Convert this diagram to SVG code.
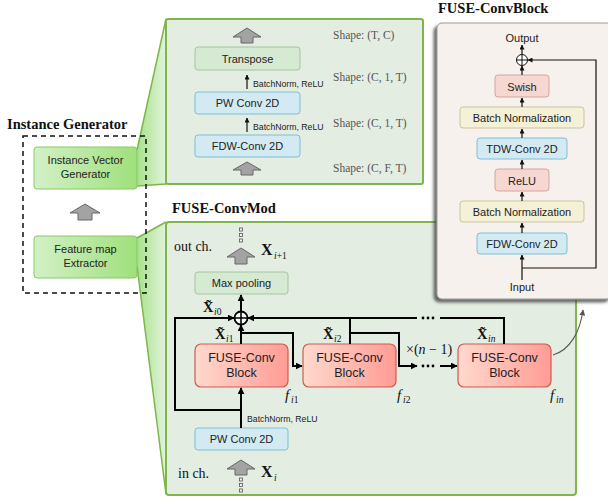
<svg xmlns="http://www.w3.org/2000/svg" width="608" height="500" viewBox="0 0 608 500">
<style>
.title{font-family:"Liberation Serif",serif;font-weight:bold;font-size:14.5px;fill:#111}
.bt{font-family:"Liberation Sans",Arial,sans-serif;font-size:11px;fill:#222;text-anchor:middle}
.bk{font-family:"Liberation Sans",Arial,sans-serif;font-size:12.5px;fill:#222;text-anchor:middle}
.sm{font-family:"Liberation Sans",Arial,sans-serif;font-size:8.7px;fill:#222}
.shp{font-family:"Liberation Serif",serif;font-size:11.5px;fill:#555}
.lbl{font-family:"Liberation Serif",serif;font-size:14px;fill:#111}
.mx{font-family:"Liberation Serif",serif;font-weight:bold;fill:#111}
.it{font-family:"Liberation Serif",serif;font-style:italic;fill:#111}
.sub{font-family:"Liberation Serif",serif;font-size:9.5px;fill:#111}
.grn{fill:url(#gIG);stroke:#86c966;stroke-width:1}
.gbox{fill:#d6e9d2;stroke:#a3c79e;stroke-width:1}
.bbox{fill:#d4eaf3;stroke:#7dbfd8;stroke-width:1}
.ybox{fill:#f4f1d6;stroke:#c9c4a0;stroke-width:1}
.pbox{fill:#f6d7d1;stroke:#d3a59c;stroke-width:1}
.fb{fill:url(#gFB);stroke:#d05a50;stroke-width:1.2}
.ga{fill:#a3a3a3;stroke:#666;stroke-width:1}
.ln{fill:none;stroke:#000;stroke-width:2}
.ln1{fill:none;stroke:#111;stroke-width:1.2}
.dq{fill:#f0f0f0;stroke:#555;stroke-width:0.8}
</style>
<defs>
<linearGradient id="gIG" x1="0" x2="1" y1="0" y2="0"><stop offset="0" stop-color="#d3f0c6"/><stop offset="1" stop-color="#9fe07c"/></linearGradient>
<linearGradient id="gFB" x1="0" x2="1" y1="0" y2="0"><stop offset="0" stop-color="#ffd9cd"/><stop offset="1" stop-color="#ff9c95"/></linearGradient>
<linearGradient id="gTr" x1="0" x2="1" y1="0" y2="0"><stop offset="0" stop-color="#a6e38a"/><stop offset="1" stop-color="#e2f2dc"/></linearGradient>
<marker id="ah" viewBox="0 0 10 10" refX="9" refY="5" markerWidth="7" markerHeight="7" markerUnits="userSpaceOnUse" orient="auto"><path d="M0,0 L10,5 L0,10 z" fill="#000"/></marker>
<marker id="as" viewBox="0 0 10 10" refX="9" refY="5" markerWidth="5" markerHeight="5" markerUnits="userSpaceOnUse" orient="auto"><path d="M0,0 L10,5 L0,10 z" fill="#111"/></marker>
<marker id="ag" viewBox="0 0 10 10" refX="9" refY="5" markerWidth="6" markerHeight="6" markerUnits="userSpaceOnUse" orient="auto"><path d="M0,0 L10,5 L0,10 z" fill="#555"/></marker>
<filter id="sh" x="-10%" y="-10%" width="120%" height="120%"><feDropShadow dx="-3" dy="3" stdDeviation="1.5" flood-color="#444" flood-opacity="0.8"/></filter>
</defs>

<!-- zoom trapezoids -->
<polygon points="137,150 166,19 166,184 137,186" fill="url(#gTr)"/>
<polyline points="137,150 166,19" fill="none" stroke="#7db64a" stroke-width="1.5"/>
<polyline points="137,186 166,184" fill="none" stroke="#7db64a" stroke-width="1.5"/>
<polygon points="137,238 166,222 166,494 137,266" fill="url(#gTr)"/>
<polyline points="137,238 166,222" fill="none" stroke="#7db64a" stroke-width="1.5"/>
<polyline points="137,266 166,494" fill="none" stroke="#7db64a" stroke-width="1.5"/>

<!-- Instance Generator -->
<g id="instance-generator">
<text class="title" x="7" y="129">Instance Generator</text>
<rect x="23" y="136" width="123" height="157" fill="none" stroke="#111" stroke-width="1.5" stroke-dasharray="5,4"/>
</g>
<g id="ivg">
<rect class="grn" x="34" y="147" width="103" height="42" rx="3"/>
<text class="bt" x="85.5" y="164">Instance Vector</text>
<text class="bt" x="85.5" y="178">Generator</text>
</g>
<g id="ig-arrow"><path class="ga" d="M85,204 L100,213 L92,213 L92,220 L78,220 L78,213 L70,213 Z"/></g>
<g id="fme">
<rect class="grn" x="34" y="236" width="103" height="42" rx="3"/>
<text class="bt" x="85.5" y="253">Feature map</text>
<text class="bt" x="85.5" y="267">Extractor</text>
</g>

<!-- Top panel -->
<g id="top-panel">
<rect x="166" y="19" width="257" height="165" rx="2" fill="#e4ede2" stroke="#7db64a" stroke-width="2"/>
<path class="ga" d="M247,28 L261,37 L253,37 L253,43 L241,43 L241,37 L233,37 Z"/>
<path class="ga" d="M247,162 L261,170 L253,170 L253,175 L241,175 L241,170 L233,170 Z"/>
<text class="shp" x="333" y="39">Shape: (T, C)</text>
<text class="shp" x="333" y="81">Shape: (C, 1, T)</text>
<text class="shp" x="333" y="127">Shape: (C, 1, T)</text>
<text class="shp" x="333" y="172">Shape: (C, F, T)</text>
</g>
<g id="transpose"><rect class="gbox" x="195" y="47" width="105" height="23" rx="3"/><text class="bt" x="247.5" y="62.5">Transpose</text></g>
<g id="pw-top"><rect class="bbox" x="195" y="92" width="105" height="22" rx="3"/><text class="bt" x="247.5" y="107">PW Conv 2D</text></g>
<g id="fdw-top"><rect class="bbox" x="195" y="135" width="105" height="22" rx="3"/><text class="bt" x="247.5" y="150">FDW-Conv 2D</text></g>
<g id="top-connectors">
<line class="ln1" x1="247" y1="89" x2="247" y2="75" stroke-width="1.5" marker-end="url(#as)"/>
<line class="ln1" x1="247" y1="132" x2="247" y2="118" stroke-width="1.5" marker-end="url(#as)"/>
<text class="sm" x="253" y="87">BatchNorm, ReLU</text>
<text class="sm" x="253" y="130">BatchNorm, ReLU</text>
</g>

<!-- Main panel -->
<g id="main-panel">
<text class="title" x="172" y="213">FUSE-ConvMod</text>
<rect x="166" y="222" width="410" height="273" rx="3" fill="#e4ede2" stroke="#7db64a" stroke-width="2"/>
<text class="lbl" x="174" y="251">out ch.</text>
<text class="lbl" x="178" y="478">in ch.</text>
<path class="ga" d="M241,248 L255,257 L247,257 L247,264 L235,264 L235,257 L227,257 Z"/>
<path class="ga" d="M241,460 L255,469 L247,469 L247,475 L235,475 L235,469 L227,469 Z"/>
<rect class="dq" x="239.5" y="228" width="3" height="3"/><rect class="dq" x="239.5" y="233.5" width="3" height="3"/><rect class="dq" x="239.5" y="239" width="3" height="3"/>
<rect class="dq" x="239.5" y="478" width="3" height="3"/><rect class="dq" x="239.5" y="483.5" width="3" height="3"/><rect class="dq" x="239.5" y="489" width="3" height="3"/>
<text class="mx" x="261" y="255" font-size="16">X</text><text class="sub" x="274" y="259" font-size="11"><tspan font-style="italic">i</tspan>+1</text>
<text class="mx" x="261" y="477" font-size="16">X</text><text class="sub" x="274" y="481" font-size="11" font-style="italic">i</text>
</g>
<g id="maxpool"><rect class="gbox" x="195" y="272" width="93" height="22" rx="3"/><text class="bt" x="241.5" y="287">Max pooling</text></g>
<g id="pw-main"><rect class="bbox" x="195" y="428" width="93" height="22" rx="3"/><text class="bt" x="241.5" y="443">PW Conv 2D</text></g>
<g id="block1"><rect class="fb" x="195" y="344" width="93" height="43" rx="6"/><text class="bk" x="241.5" y="362">FUSE-Conv</text><text class="bk" x="241.5" y="377">Block</text></g>
<g id="block2"><rect class="fb" x="303" y="344" width="93" height="43" rx="6"/><text class="bk" x="349.5" y="362">FUSE-Conv</text><text class="bk" x="349.5" y="377">Block</text></g>
<g id="blockn"><rect class="fb" x="458" y="344" width="93" height="43" rx="6"/><text class="bk" x="504.5" y="362">FUSE-Conv</text><text class="bk" x="504.5" y="377">Block</text></g>
<g id="sum-node"><circle cx="241" cy="318" r="6.5" fill="#fff" stroke="#000" stroke-width="1.8"/><path d="M234.5,318 H247.5 M241,311.5 V324.5" stroke="#000" stroke-width="1.6"/></g>

<g id="main-labels">
<text class="mx" x="203" y="312" font-size="14.5">X̃</text><text class="sub" x="214" y="315" font-size="9.5"><tspan font-style="italic">i</tspan>0</text>
<text class="mx" x="215" y="339" font-size="14.5">X̃</text><text class="sub" x="226" y="342" font-size="9.5"><tspan font-style="italic">i</tspan>1</text>
<text class="mx" x="323" y="339" font-size="14.5">X̃</text><text class="sub" x="334" y="342" font-size="9.5"><tspan font-style="italic">i</tspan>2</text>
<text class="mx" x="477" y="339" font-size="14.5">X̃</text><text class="sub" x="488" y="342" font-size="9.5" font-style="italic">in</text>
<text class="it" x="285" y="400" font-size="15">f</text><text class="sub" x="291" y="403" font-size="10"><tspan font-style="italic">i</tspan>1</text>
<text class="it" x="397" y="400" font-size="15">f</text><text class="sub" x="403" y="403" font-size="10"><tspan font-style="italic">i</tspan>2</text>
<text class="it" x="550" y="400" font-size="15">f</text><text class="sub" x="556" y="403" font-size="10" font-style="italic">in</text>
<text class="lbl" x="406" y="354" font-size="13">×(<tspan font-style="italic">n</tspan> − 1)</text>
<text class="sm" x="247" y="422" font-size="8.5">BatchNorm, ReLU</text>
</g>

<g id="connectors">
<line class="ln" x1="241" y1="311" x2="241" y2="295" marker-end="url(#ah)"/>
<path class="ln" d="M241,410 H175 V318 H234" marker-end="url(#ah)"/>
<path class="ln" d="M504,344 V318 H440"/>
<path class="ln" d="M417,318 H248" marker-end="url(#ah)"/>
<line class="ln" x1="350" y1="344" x2="350" y2="318"/>
<line class="ln" x1="241" y1="344" x2="241" y2="325" marker-end="url(#ah)"/>
<path class="ln" d="M241,333 H293 V366 H302" marker-end="url(#ah)"/>
<path class="ln" d="M350,333 H399 V366 H417" marker-end="url(#ah)"/>
<line class="ln" x1="440" y1="366" x2="457" y2="366" marker-end="url(#ah)"/>
<line class="ln" x1="241" y1="428" x2="241" y2="388" marker-end="url(#ah)"/>
<circle cx="423" cy="318" r="1.4"/><circle cx="428" cy="318" r="1.4"/><circle cx="433" cy="318" r="1.4"/>
<circle cx="423" cy="366" r="1.4"/><circle cx="428" cy="366" r="1.4"/><circle cx="433" cy="366" r="1.4"/>
<path d="M553,355 C570,350 580,332 583,310" fill="none" stroke="#555" stroke-width="1.1" marker-end="url(#ag)"/>
</g>

<!-- FUSE-ConvBlock panel -->
<g id="fuse-convblock">
<text class="title" x="438" y="13">FUSE-ConvBlock</text>
<rect x="437" y="23" width="175" height="276" rx="5" fill="#f6f1ed" stroke="#9a9a9a" stroke-width="1" filter="url(#sh)"/>
<text class="bt" x="522" y="42">Output</text>
<text class="bt" x="522" y="291">Input</text>
</g>
<g id="cb-sum"><circle cx="522" cy="60" r="5.5" fill="#fff" stroke="#111" stroke-width="1"/><path d="M516.5,60 H527.5 M522,54.5 V65.5" stroke="#111" stroke-width="1"/></g>
<g id="cb-swish"><rect class="pbox" x="495" y="75" width="54" height="22" rx="3"/><text class="bt" x="522" y="90.5">Swish</text></g>
<g id="cb-bn2"><rect class="ybox" x="460" y="107" width="124" height="21" rx="3"/><text class="bt" x="522" y="121.5">Batch Normalization</text></g>
<g id="cb-tdw"><rect class="bbox" x="477" y="138" width="90" height="21" rx="3"/><text class="bt" x="522" y="152.5">TDW-Conv 2D</text></g>
<g id="cb-relu"><rect class="pbox" x="495" y="169" width="54" height="22" rx="3"/><text class="bt" x="522" y="184.5">ReLU</text></g>
<g id="cb-bn1"><rect class="ybox" x="460" y="201" width="124" height="21" rx="3"/><text class="bt" x="522" y="215.5">Batch Normalization</text></g>
<g id="cb-fdw"><rect class="bbox" x="477" y="233" width="90" height="21" rx="3"/><text class="bt" x="522" y="247.5">FDW-Conv 2D</text></g>
<g id="cb-connectors">
<line class="ln1" x1="522" y1="280" x2="522" y2="255" marker-end="url(#as)"/>
<path class="ln1" d="M522,268 H596 V60 H528" marker-end="url(#as)"/>
<line class="ln1" x1="522" y1="233" x2="522" y2="223" marker-end="url(#as)"/>
<line class="ln1" x1="522" y1="201" x2="522" y2="192" marker-end="url(#as)"/>
<line class="ln1" x1="522" y1="169" x2="522" y2="160" marker-end="url(#as)"/>
<line class="ln1" x1="522" y1="138" x2="522" y2="129" marker-end="url(#as)"/>
<line class="ln1" x1="522" y1="107" x2="522" y2="98" marker-end="url(#as)"/>
<line class="ln1" x1="522" y1="75" x2="522" y2="66" marker-end="url(#as)"/>
<line class="ln1" x1="522" y1="54" x2="522" y2="45" marker-end="url(#as)"/>
</g>
</svg>
